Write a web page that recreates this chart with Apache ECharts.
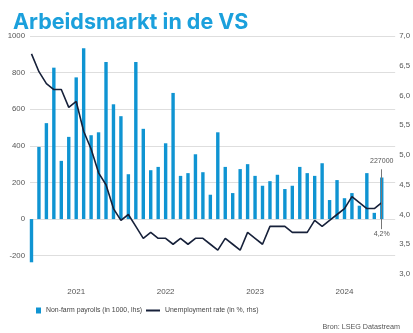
<!DOCTYPE html>
<html>
<head>
<meta charset="utf-8">
<script src="https://cdn.jsdelivr.net/npm/echarts@6/dist/echarts.min.js"></script>
<style>html,body{margin:0;padding:0;background:#fff;}#c{width:413px;height:333px;}</style>
</head>
<body>
<div id="c"></div>
<script>
const months = ['2020-12',
  '2021-01','2021-02','2021-03','2021-04','2021-05','2021-06','2021-07','2021-08','2021-09','2021-10','2021-11','2021-12',
  '2022-01','2022-02','2022-03','2022-04','2022-05','2022-06','2022-07','2022-08','2022-09','2022-10','2022-11','2022-12',
  '2023-01','2023-02','2023-03','2023-04','2023-05','2023-06','2023-07','2023-08','2023-09','2023-10','2023-11','2023-12',
  '2024-01','2024-02','2024-03','2024-04','2024-05','2024-06','2024-07','2024-08','2024-09','2024-10','2024-11'];
const payrolls = [-236,
  394,524,827,318,449,774,933,458,474,858,627,562,
  245,858,493,267,285,414,689,236,251,354,256,133,
  474,285,142,273,300,236,182,207,242,164,182,285,
  251,236,305,104,213,114,142,73,251,34,227];
const unemployment = [6.7,
  6.4,6.2,6.1,6.1,5.8,5.9,5.4,5.1,4.7,4.5,4.1,3.9,
  4.0,3.8,3.6,3.7,3.6,3.6,3.5,3.6,3.5,3.6,3.6,3.5,
  3.4,3.6,3.5,3.4,3.7,3.6,3.5,3.8,3.8,3.8,3.7,3.7,
  3.7,3.9,3.8,3.9,4.0,4.1,4.3,4.2,4.1,4.1,4.2];
const yearLabels = ['2021','2022','2023','2024'];
const leftTicks = [-200, 0, 200, 400, 600, 800, 1000];
const rightTicks = [3.0, 3.5, 4.0, 4.5, 5.0, 5.5, 6.0, 6.5, 7.0];

const payName = 'Non-farm payrolls (in 1000, lhs)';
const unName = 'Unemployment rate (in %, rhs)';
const FONT = "'Liberation Sans Narrow','Liberation Sans',sans-serif";
const last = months.length - 1;
const yearPos = yearLabels.map(y => months.indexOf(y + '-06'));

const chart = echarts.init(document.getElementById('c'), null, {renderer: 'canvas'});
chart.setOption({
  animation: false,
  title: [
    {text: 'Arbeidsmarkt in de VS', left: 8, top: 7,
     textStyle: {fontFamily: 'Inter', fontWeight: 'bold', fontSize: 21.5, color: '#1ba0dc'}},
    {text: 'Bron: LSEG Datastream', right: 8, top: 319,
     textStyle: {fontFamily: FONT, fontWeight: 'normal', fontSize: 7.2, color: '#555'}}
  ],
  legend: [
    {data: [payName], left: 36, top: 307, padding: 0, icon: 'rect', itemWidth: 5, itemHeight: 6,
     textStyle: {fontFamily: FONT, fontSize: 6.9, color: '#444'}},
    {data: [unName], left: 146, top: 307, padding: 0, icon: 'rect', itemWidth: 14, itemHeight: 2,
     textStyle: {fontFamily: FONT, fontSize: 6.9, color: '#444'}}
  ],
  grid: {left: 30, right: 15, top: 36, bottom: 59, containLabel: false},
  xAxis: {
    type: 'value', min: -0.2, max: last + 1.8,
    axisLine: {show: false}, axisTick: {show: false}, splitLine: {show: false},
    axisLabel: {customValues: yearPos, margin: 14, fontFamily: FONT, fontSize: 8, color: '#555',
      formatter: v => yearLabels[yearPos.indexOf(Math.round(v))] || ''}
  },
  yAxis: [
    {type: 'value', min: -300, max: 1000, interval: 100,
     axisLine: {show: false}, axisTick: {show: false},
     axisLabel: {margin: 5, fontFamily: FONT, fontSize: 7.8, color: '#555',
       formatter: v => leftTicks.indexOf(v) >= 0 ? String(v) : ''},
     splitLine: {show: true, lineStyle: {color: ['rgba(0,0,0,0)', '#dedede'], width: 1}}},
    {type: 'value', min: 3, max: 7, interval: 0.5,
     axisLine: {show: false}, axisTick: {show: false}, splitLine: {show: false},
     axisLabel: {margin: 4, fontFamily: FONT, fontSize: 7.8, color: '#555',
       formatter: v => rightTicks.some(t => Math.abs(t - v) < 1e-9) ? v.toFixed(1).replace('.', ',') : ''}}
  ],
  series: [
    {name: payName, type: 'bar', yAxisIndex: 0, barWidth: 3.4,
     itemStyle: {color: '#0f94d2'},
     data: payrolls.map((v, i) => i === last ? {value: [i, v], label: {show: true}} : [i, v]),
     label: {show: false, position: 'top', distance: 13, fontFamily: FONT, fontSize: 7, color: '#555',
       formatter: p => String(p.value[1] * 1000)},
     markLine: {silent: true, symbol: 'none', label: {show: false},
       lineStyle: {color: '#777', width: 1, type: 'solid'},
       data: [[{coord: [last, payrolls[last] + 45]}, {coord: [last, -55]}]]}},
    {name: unName, type: 'line', yAxisIndex: 1, symbol: 'none', z: 3,
     lineStyle: {color: '#17213a', width: 1.6}, itemStyle: {color: '#17213a'},
     data: unemployment.map((v, i) => [i, v]),
     markPoint: {silent: true, symbol: 'circle', symbolSize: 0,
       label: {show: true, offset: [0, 31], fontFamily: FONT, fontSize: 7, color: '#555',
         formatter: p => unemployment[last].toFixed(1).replace('.', ',') + '%'},
       data: [{coord: [last, unemployment[last]]}]}}
  ]
});
</script>
</body>
</html>
